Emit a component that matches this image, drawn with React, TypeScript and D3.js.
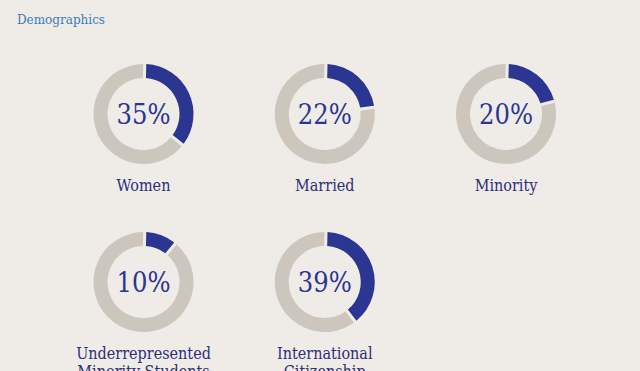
import React from "react";
import * as d3 from "d3";

const categories = ["Women", "Married", "Minority", "Underrepresented Minority Students", "International Citizenship"];
const labelLines = [["Women"], ["Married"], ["Minority"], ["Underrepresented", "Minority Students"], ["International", "Citizenship"]];
const values = [35, 22, 20, 10, 39];

const W = 640, H = 371;
const BG = "#efebe7";
const GRAY = "#ccc6bd";
const BLUE = "#2b3592";
const TEXT = "#2d2f78";
const FONT = "'DejaVu Serif', Georgia, serif";

export default function App() {
  const col = d3.scalePoint<number>().domain([0, 1, 2]).range([143.5, 506]);
  const row = d3.scalePoint<number>().domain([0, 1]).range([114, 282]);
  const outer = 50, inner = 36;
  const arc = d3.arc<d3.PieArcDatum<number>>().innerRadius(inner).outerRadius(outer);
  const pie = d3.pie<number>().sort(null).value((d) => d).padAngle(0.05);
  return (
    <svg width={W} height={H} style={{ position: "absolute", left: 0, top: 0, background: BG }}>
      <rect width={W} height={H} fill={BG} />
      <text x={17} y={24} fontFamily={FONT} fontSize={12} fill="#3a7bb8">Demographics</text>
      {values.map((v, i) => {
        const cx = col(i % 3)!;
        const cy = row(Math.floor(i / 3))!;
        const arcs = pie([v, 100 - v]).map((a) => ({ ...a, startAngle: a.startAngle + 0.025, endAngle: a.endAngle + 0.025 }));
        return (
          <g key={categories[i]} transform={`translate(${cx},${cy})`}>
            {arcs.map((a, j) => (
              <path key={j} d={arc(a) || ""} fill={j === 0 ? BLUE : GRAY} />
            ))}
            <text y={10} textAnchor="middle" fontFamily={FONT} fontSize={27} style={{ fontStretch: "condensed" }} fill={BLUE}>{v}%</text>
            {labelLines[i].map((line, k) => (
              <text key={k} y={77 + k * 18} textAnchor="middle" fontFamily={FONT} fontSize={16} style={{ fontStretch: "condensed" }} fill={TEXT}>{line}</text>
            ))}
          </g>
        );
      })}
    </svg>
  );
}
